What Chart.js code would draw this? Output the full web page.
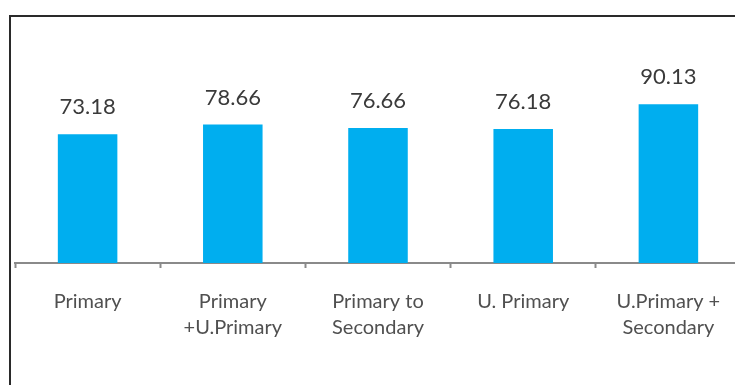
<!DOCTYPE html>
<html>
<head>
<meta charset="utf-8">
<script src="https://cdn.jsdelivr.net/npm/chart.js@4"></script>
<style>
  html, body { margin: 0; padding: 0; width: 735px; height: 385px; overflow: hidden; background: #fff; }
  #frame {
    position: absolute; left: 9px; top: 15px; width: 760px; height: 400px;
    border-left: 2px solid #2a2a2a; border-top: 2px solid #2a2a2a;
    box-shadow: -1px -1px 0 #9a9a9a inset;
  }
  #wrap { position: absolute; left: 0; top: 0; width: 760px; height: 385px; }
</style>
</head>
<body>
<div id="frame"></div>
<div id="wrap"><canvas id="chart"></canvas></div>
<script>
const categories = [
  'Primary',
  ['Primary', '+U.Primary'],
  ['Primary to', 'Secondary'],
  'U. Primary',
  ['U.Primary +', 'Secondary'],
];
const values = [73.18, 78.66, 76.66, 76.18, 90.13];

const BAR = '#00AEEF';
const FONT = 'Lato, "Open Sans", sans-serif';

// value labels sitting above each bar
const valueLabels = {
  id: 'valueLabels',
  afterDatasetsDraw(chart) {
    const { ctx } = chart;
    const meta = chart.getDatasetMeta(0);
    ctx.save();
    ctx.font = '22px ' + FONT;
    ctx.fillStyle = '#3a3a3a';
    ctx.textAlign = 'center';
    ctx.textBaseline = 'bottom';
    meta.data.forEach((bar, i) => {
      ctx.fillText(values[i].toFixed(2), bar.x, bar.y - 16);
    });
    ctx.restore();
  },
};

new Chart(document.getElementById('chart'), {
  type: 'bar',
  data: {
    labels: categories,
    datasets: [{ data: values, backgroundColor: BAR, barPercentage: 0.82, categoryPercentage: 0.5 }],
  },
  options: {
    responsive: true, maintainAspectRatio: false,
    animation: false,
    layout: { padding: { left: 15, right: 19, top: 87, bottom: 23 } },
    plugins: { legend: { display: false }, tooltip: { enabled: false } },
    scales: {
      x: {
        border: { color: '#8a8a8a', width: 2 },
        grid: { offset: true, drawOnChartArea: false, color: '#8a8a8a', tickLength: 5, tickWidth: 2 },
        ticks: { color: '#505050', padding: 21, maxRotation: 0, font: { family: FONT, size: 20, lineHeight: 1.3 } },
      },
      y: { display: false, min: 0, max: 100 },
    },
  },
  plugins: [valueLabels],
});
</script>
</body>
</html>
